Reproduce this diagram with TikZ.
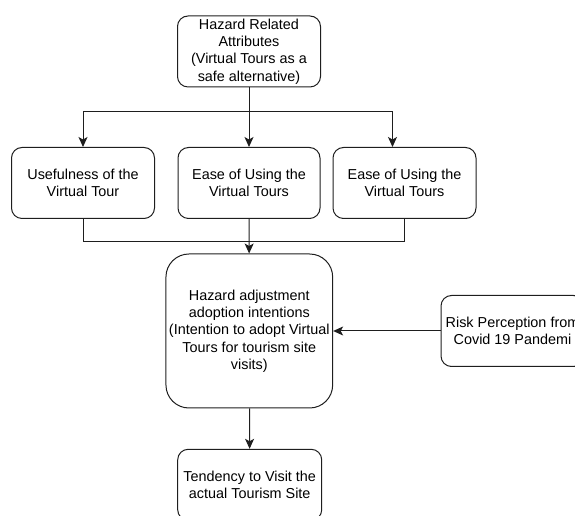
\documentclass[tikz,border=0pt]{standalone}
\usepackage{fontspec}
\setmainfont{Liberation Sans}
\usepackage{tikz}
\usetikzlibrary{arrows.meta, positioning, calc}
\definecolor{edgegray}{RGB}{30, 30, 30}

\begin{document}
\begin{tikzpicture}[
    x=1pt, y=1pt,
    box/.style={rectangle, rounded corners=10.5pt, draw=edgegray, line width=1pt, minimum width=143pt, minimum height=71pt, inner sep=1pt, align=center, font=\fontsize{14.4}{17.3}\selectfont},
    bigbox/.style={box, rounded corners=23pt, minimum width=166.7pt, minimum height=154pt},
    link/.style={draw=edgegray, line width=1pt},
    arrow/.style={link, -{Stealth[length=10pt, width=9pt, inset=2.5pt]}}
]
    \useasboundingbox (0,0) rectangle (575,516);

    \node[box] (hazard) at (249,464.5) {Hazard Related\\Attributes\\(Virtual Tours as a\\safe alternative)};
    \node[box] (useful) at (83,333) {Usefulness of the\\Virtual Tour};
    \node[box, minimum width=142pt] (easeA) at (249,333) {Ease of Using the\\Virtual Tours};
    \node[box] (easeB) at (404.5,333) {Ease of Using the\\Virtual Tours};
    \node[bigbox] (adopt) at (249.3,185) {Hazard adjustment\\adoption intentions\\(Intention to adopt Virtual\\Tours for tourism site\\visits)};
    \node[box] (risk) at (512.5,185) {Risk Perception from\\Covid 19 Pandemi};
    \node[box, minimum width=144pt] (visit) at (249.7,31.2) {Tendency to Visit the\\actual Tourism Site};

    \coordinate (split) at (249,404);
    \coordinate (merge) at (249,274);

    \draw[link] (hazard) -- (split);
    \draw[arrow] (split) -| (useful.north);
    \draw[arrow] (split) -- (easeA);
    \draw[arrow] (split) -| ([xshift=-12pt]easeB.north);

    \draw[link] (useful.south) |- (merge);
    \draw[link] (easeB.south) |- (merge);
    \draw[arrow] (easeA) -- (adopt);

    \draw[arrow] (risk) -- (adopt);
    \draw[arrow] (adopt) -- (visit);
\end{tikzpicture}
\end{document}
